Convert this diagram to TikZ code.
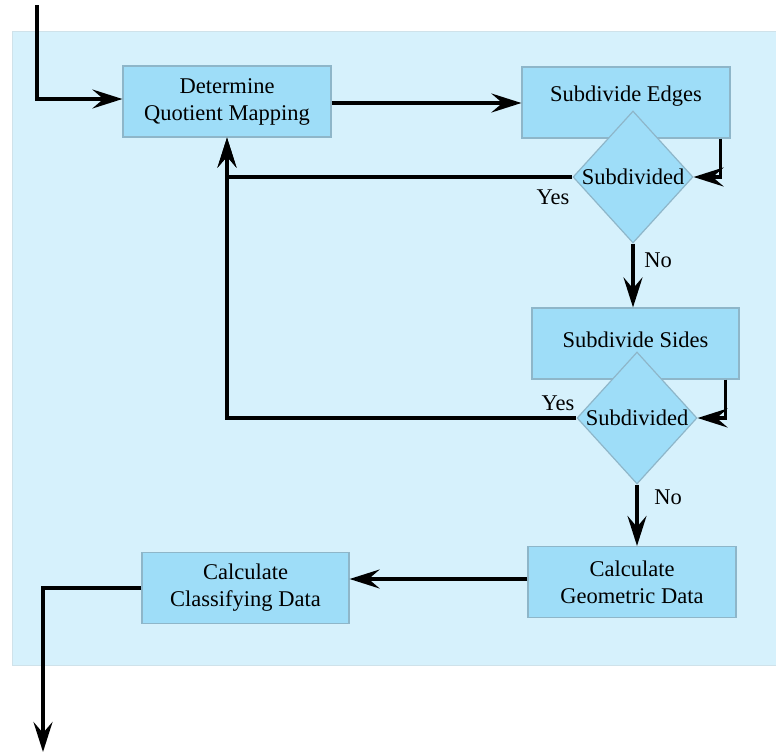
\documentclass[tikz,border=0pt]{standalone}
\usepackage{fontspec}
\setmainfont{Liberation Serif}
\usetikzlibrary{arrows.meta,shapes.geometric}
\definecolor{panel}{HTML}{D6F1FC}
\definecolor{panelline}{HTML}{CFE2EA}
\definecolor{boxfill}{HTML}{9EDDF8}
\definecolor{boxline}{HTML}{8EB6C9}
\newcommand{\flowfont}{\rmfamily\fontsize{22.5}{27}\selectfont}
\tikzset{
  stepbox/.style={rectangle, draw=boxline, fill=boxfill, line width=1.2pt,
    minimum width=#1, minimum height=71pt, inner sep=0pt, align=center,
    font=\flowfont},
  stepbox/.default=208pt,
  decision/.style={diamond, draw=boxline, fill=boxfill, line width=1.2pt,
    minimum width=120pt, minimum height=132pt, inner sep=0pt,
    label={[font=\flowfont]center:#1}},
  flow/.style={line width=3.5pt, -{Stealth[length=30pt,width=19pt,inset=11pt]}},
  tag/.style={font=\flowfont, inner sep=0pt},
}
\begin{document}
\begin{tikzpicture}[x=1pt,y=-1pt]
\useasboundingbox (0,0) rectangle (776,753);
% panel behind the flow
\fill[panel] (12,31) rectangle (776,665);
\draw[panelline, line width=1pt] (776,665) -- (12,665) -- (12,31) -- (776,31);

% steps
\node[stepbox] (q)  at (227,101.5) {Determine\\Quotient Mapping};
\node[stepbox, label={[font=\flowfont, yshift=6.5pt]center:Subdivide Edges}] (se) at (626,102.5) {};
\node[decision=Subdivided] (d1) at (633,177) {};
\node[stepbox=207pt, label={[font=\flowfont, yshift=4pt]center:Subdivide Sides}] (ss) at (635.5,343.5) {};
\node[decision=Subdivided] (d2) at (637,418) {};
\node[stepbox] (gd) at (632,582) {Calculate\\Geometric Data};
\node[stepbox=207pt] (cd) at (245.5,588) {Calculate\\Classifying Data};

% entry and exit points
\coordinate (in)  at (37,5);
\coordinate (out) at (43,752);

% connectors
\draw[flow] (in) |- ([yshift=2.5pt]q.west);
\draw[flow] ([yshift=-1.5pt]q.east) -- ([yshift=-1.5pt]q.east -| se.west);
\draw[flow] ([xshift=-10pt]se.south east) |- (d1.east);
\draw[flow] (d1.west) -| (q.south);
\draw[flow] (d1.south) -- (d1.south |- ss.north);
\draw[flow] ([xshift=-14pt]ss.south east) |- (d2.east);
\draw[flow] (d2.west) -| (q.south);
\draw[flow] (d2.south) -- (d2.south |- gd.north);
\draw[flow] ([yshift=3pt]gd.west) -- ([yshift=3pt]gd.west -| cd.east);
\draw[flow] (cd.west) -| (out);

% branch labels
\node[tag] (y1) at (553,197) {Yes};
\node[tag] (n1) at (658,260) {No};
\node[tag] (y2) at (558,403) {Yes};
\node[tag] (n2) at (668,497) {No};
\end{tikzpicture}
\end{document}
